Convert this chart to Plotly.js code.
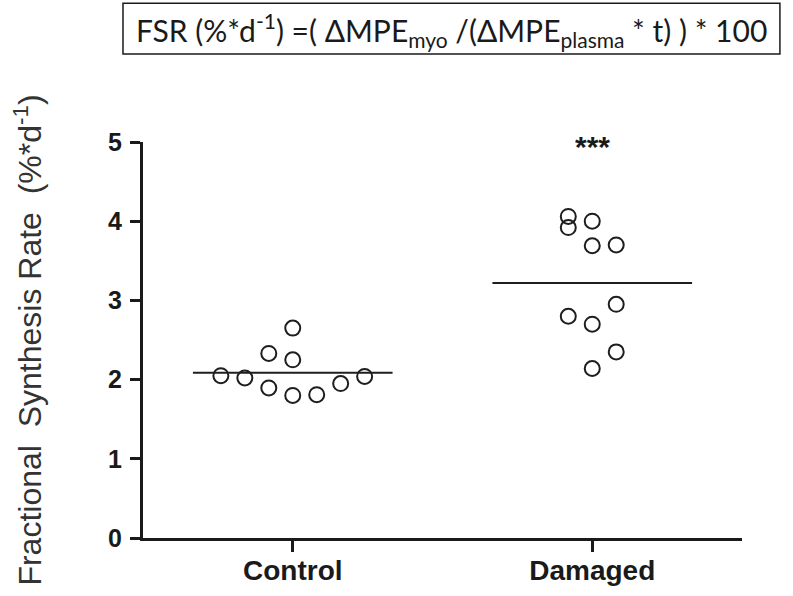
<!DOCTYPE html>
<html>
<head>
<meta charset="utf-8">
<script src="https://cdn.plot.ly/plotly-3.0.1.min.js"></script>
<style>html,body{margin:0;padding:0;background:#fff;}#chart{width:793px;height:596px;}</style>
</head>
<body>
<div id="chart"></div>
<script>
// ---- data ----
var categories = ["Control", "Damaged"];
var controlValues = [2.65, 2.33, 2.25, 2.05, 2.02, 1.895, 1.80, 1.81, 1.95, 2.04];
var damagedValues = [4.06, 3.92, 4.00, 3.69, 3.70, 2.95, 2.80, 2.70, 2.35, 2.14];
var groupMeans = [2.085, 3.22];
var yTickValues = [0, 1, 2, 3, 4, 5];
var significance = "***";

// ---- layout helpers (horizontal spread of the dot columns, in category units) ----
var controlJitter = [0, -0.08, 0, -0.24, -0.16, -0.08, 0, 0.08, 0.16, 0.24];
var damagedJitter = [-0.08, -0.08, 0, 0, 0.08, 0.08, -0.08, 0, 0.08, 0];
var meanHalfWidth = 1 / 3;

function xs(center, jit) { return jit.map(function (j) { return center + j; }); }

var markerStyle = { symbol: "circle-open", size: 15, color: "#1e1e1e", line: { width: 2, color: "#1e1e1e" } };

var traces = [
  { type: "scatter", mode: "markers", name: categories[0], x: xs(0, controlJitter), y: controlValues, marker: markerStyle, hoverinfo: "y" },
  { type: "scatter", mode: "markers", name: categories[1], x: xs(1, damagedJitter), y: damagedValues, marker: markerStyle, hoverinfo: "y" }
];
groupMeans.forEach(function (m, i) {
  traces.push({ type: "scatter", mode: "lines", name: categories[i] + " mean",
    x: [i - meanHalfWidth, i + meanHalfWidth], y: [m, m],
    line: { color: "#1e1e1e", width: 2 }, hoverinfo: "y" });
});

var layout = {
  width: 793, height: 596,
  paper_bgcolor: "#ffffff", plot_bgcolor: "#ffffff",
  showlegend: false,
  margin: { l: 143, r: 51, t: 142, b: 58, pad: 0 },
  xaxis: {
    range: [-0.5, 1.5], fixedrange: true,
    tickmode: "array", tickvals: [0, 1], ticktext: categories,
    showgrid: false, zeroline: false,
    showline: true, linecolor: "#1a1a1a", linewidth: 3,
    ticks: "outside", ticklen: 11, tickwidth: 3, tickcolor: "#1a1a1a",
    ticklabelstandoff: -6,
    tickfont: { family: "Arial, 'Liberation Sans', sans-serif", size: 28, color: "#1a1a1a", weight: "bold" }
  },
  yaxis: {
    range: [0, 5], fixedrange: true,
    tickmode: "array", tickvals: yTickValues, ticktext: yTickValues.map(String),
    showgrid: false, zeroline: false,
    showline: true, linecolor: "#1a1a1a", linewidth: 3,
    ticks: "outside", ticklen: 10, tickwidth: 3, tickcolor: "#1a1a1a",
    ticklabelstandoff: 3,
    tickfont: { family: "Arial, 'Liberation Sans', sans-serif", size: 25, color: "#1a1a1a", weight: "bold" },
    title: {
      text: "Fractional\u00a0 Synthesis Rate\u00a0 (%*d<sup>-1</sup>)",
      font: { family: "Arial, 'Liberation Sans', sans-serif", size: 32, color: "#333333" },
      standoff: 57
    }
  },
  shapes: [
    { type: "rect", xref: "paper", yref: "paper",
      x0: -0.0334, x1: 1.0633, y0: 1.2222, y1: 1.3503,
      line: { color: "#1a1a1a", width: 1.5 }, fillcolor: "rgba(0,0,0,0)" }
  ],
  annotations: [
    { xref: "paper", yref: "paper", x: 0.515, y: 1.2840, xanchor: "center", yanchor: "middle",
      showarrow: false,
      text: "FSR (%*d<sup>-1</sup>) =( \u0394MPE<sub>myo</sub> /(\u0394MPE<sub>plasma</sub> * t) ) * 100",
      font: { family: "Lato, 'Open Sans', sans-serif", size: 30, color: "#1a1a1a" } },
    { xref: "x", yref: "y", x: 1, y: 5, xanchor: "center", yanchor: "middle", yshift: -4,
      showarrow: false, text: significance,
      font: { family: "Arial, 'Liberation Sans', sans-serif", size: 30, color: "#1a1a1a", weight: "bold" } }
  ]
};

Plotly.newPlot("chart", traces, layout, { displayModeBar: false, staticPlot: true });
</script>
</body>
</html>
